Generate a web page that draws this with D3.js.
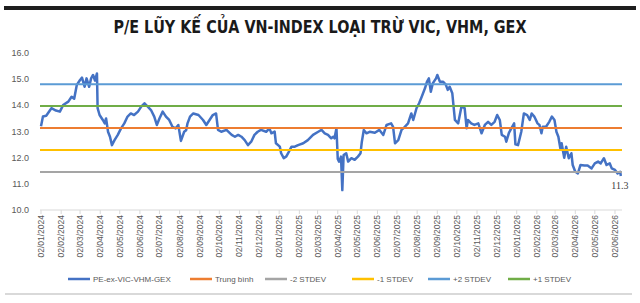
<!DOCTYPE html>
<html>
<head>
<meta charset="utf-8">
<script src="https://cdn.jsdelivr.net/npm/d3@7"></script>
<style>
  body { margin: 0; background: #fff; }
  svg { display: block; }
</style>
</head>
<body>
<svg id="chart" width="640" height="303"></svg>
<script>
// P/E series (date, value)
var dates = ["2024-01-02","2024-01-05","2024-01-10","2024-01-18","2024-01-25","2024-01-31","2024-02-05","2024-02-13","2024-02-18","2024-02-22",
  "2024-02-26","2024-03-02","2024-03-05","2024-03-09","2024-03-12","2024-03-16","2024-03-19","2024-03-22","2024-03-25","2024-03-28",
  "2024-03-29","2024-04-01","2024-04-06","2024-04-09","2024-04-11","2024-04-14","2024-04-17","2024-04-20","2024-04-24","2024-04-29",
  "2024-05-04","2024-05-09","2024-05-14","2024-05-19","2024-05-24","2024-05-30","2024-06-04","2024-06-09","2024-06-14","2024-06-19",
  "2024-06-24","2024-06-28","2024-07-02","2024-07-07","2024-07-12","2024-07-17","2024-07-22","2024-07-27","2024-07-31","2024-08-04",
  "2024-08-09","2024-08-12","2024-08-14","2024-08-18","2024-08-23","2024-08-31","2024-09-07","2024-09-12","2024-09-17","2024-09-22",
  "2024-09-27","2024-09-30","2024-10-05","2024-10-13","2024-10-21","2024-10-26","2024-10-31","2024-11-05","2024-11-10","2024-11-15",
  "2024-11-20","2024-11-25","2024-11-30","2024-12-05","2024-12-13","2024-12-18","2024-12-21","2024-12-26","2024-12-28","2025-01-03",
  "2025-01-05","2025-01-09","2025-01-13","2025-01-17","2025-01-21","2025-01-26","2025-01-31","2025-02-08","2025-02-15","2025-02-23",
  "2025-03-03","2025-03-08","2025-03-13","2025-03-18","2025-03-23","2025-03-26","2025-03-28","2025-03-31","2025-04-02","2025-04-04",
  "2025-04-07","2025-04-09","2025-04-11","2025-04-15","2025-04-18","2025-04-23","2025-04-28","2025-05-03","2025-05-07","2025-05-09",
  "2025-05-12","2025-05-16","2025-05-21","2025-05-29","2025-06-05","2025-06-11","2025-06-16","2025-06-23","2025-06-26","2025-06-29",
  "2025-07-04","2025-07-09","2025-07-14","2025-07-19","2025-07-24","2025-07-27","2025-08-01","2025-08-05","2025-08-09","2025-08-14",
  "2025-08-17","2025-08-20","2025-08-23","2025-08-26","2025-08-31","2025-09-02","2025-09-06","2025-09-11","2025-09-15","2025-09-18",
  "2025-09-21","2025-09-25","2025-09-29","2025-10-04","2025-10-09","2025-10-14","2025-10-17","2025-10-19","2025-10-24","2025-10-29",
  "2025-11-04","2025-11-09","2025-11-14","2025-11-19","2025-11-24","2025-11-29","2025-12-03","2025-12-07","2025-12-10","2025-12-15",
  "2025-12-17","2025-12-21","2025-12-26","2025-12-29","2025-12-31","2026-01-04","2026-01-09","2026-01-13","2026-01-18","2026-01-22",
  "2026-01-25","2026-01-29","2026-02-03","2026-02-06","2026-02-09","2026-02-11","2026-02-16","2026-02-21","2026-02-25","2026-03-01",
  "2026-03-04","2026-03-07","2026-03-10","2026-03-12","2026-03-16","2026-03-19","2026-03-23","2026-03-27","2026-03-29","2026-04-02",
  "2026-04-06","2026-04-10","2026-04-16","2026-04-21","2026-04-27","2026-05-02","2026-05-07","2026-05-11","2026-05-16","2026-05-20",
  "2026-05-25","2026-05-28","2026-06-02","2026-06-06","2026-06-10","2026-06-11"]
var pe = [13.20,13.57,13.60,13.89,13.80,13.76,14.01,14.14,14.33,14.25,
  14.78,14.97,15.06,14.71,15.03,14.71,15.03,15.16,14.95,15.22,
  13.89,13.63,13.44,13.31,13.50,12.99,12.80,12.48,12.67,12.87,
  13.12,13.31,13.57,13.69,13.63,13.76,13.95,14.08,13.95,13.82,
  13.57,13.25,13.50,13.76,13.57,13.44,13.18,13.12,13.25,12.64,
  12.99,13.05,13.30,13.57,13.69,13.63,13.44,13.25,13.44,13.63,
  13.69,13.06,12.99,13.06,12.87,12.80,12.87,12.80,12.67,12.48,
  12.61,12.87,12.99,13.06,12.99,13.12,12.93,13.00,12.55,12.42,
  12.17,11.98,12.05,12.23,12.42,12.42,12.48,12.55,12.67,12.87,
  12.99,13.06,12.93,12.87,12.74,12.80,12.74,13.12,11.95,11.85,
  12.04,10.76,12.10,12.17,11.85,11.98,11.92,12.04,12.17,12.61,
  13.06,12.93,12.99,12.95,13.06,12.87,13.25,13.31,13.18,12.55,
  12.67,13.06,13.18,13.31,13.69,13.44,13.89,14.08,14.33,14.65,
  14.90,15.03,14.52,14.84,15.03,15.16,14.90,14.90,14.79,14.59,
  14.71,14.46,13.44,13.31,13.95,13.89,13.12,13.44,13.31,13.25,
  13.31,12.93,13.25,13.37,13.25,13.37,13.63,13.44,12.87,12.80,
  12.61,12.95,13.18,13.31,12.51,12.48,12.99,13.69,13.63,13.44,
  13.69,13.57,13.31,13.25,12.93,13.18,13.18,13.37,13.57,13.44,
  12.99,12.80,12.36,12.55,12.00,12.42,11.98,12.17,11.72,11.46,
  11.40,11.72,11.70,11.70,11.59,11.78,11.85,11.78,11.98,11.72,
  11.78,11.59,11.53,11.40,11.46,11.30]

var bandNames = ["Trung bình", "-2 STDEV", "-1 STDEV", "+2 STDEV", "+1 STDEV"]
var bandValues = [13.13, 11.45, 12.29, 14.81, 13.97]
var bandColors = ["#ED7D31", "#A5A5A5", "#FFC000", "#5B9BD5", "#70AD47"]

var yTicks = [10, 11, 12, 13, 14, 15, 16]
var tickLabels = ["02/01/2024","02/02/2024","02/03/2024","02/04/2024","02/05/2024","02/06/2024","02/07/2024","02/08/2024",
  "02/09/2024","02/10/2024","02/11/2024","02/12/2024","02/01/2025","02/02/2025","02/03/2025","02/04/2025","02/05/2025",
  "02/06/2025","02/07/2025","02/08/2025","02/09/2025","02/10/2025","02/11/2025","02/12/2025","02/01/2026","02/02/2026",
  "02/03/2026","02/04/2026","02/05/2026","02/06/2026"]

var seriesName = "PE-ex-VIC-VHM-GEX"
var seriesColor = "#4472C4"
var lastLabel = "11.3"

function main(){
	var parseIso = d3.timeParse("%Y-%m-%d")
	var parseTick = d3.timeParse("%d/%m/%Y")
	var points = dates.map(function(d, i){ return {date: parseIso(d), value: pe[i]} })

	var svg = d3.select('svg#chart')

	// top black bar + bottom frame line
	svg.append('rect').attr('x', 4).attr('y', 6).attr('width', 632).attr('height', 4).style('fill', '#1e1e1e')
	svg.append('line').attr('x1', 5).attr('x2', 632).attr('y1', 294).attr('y2', 294)
		.style('stroke', '#d9d9d9').style('stroke-width', 2)

	svg.append('text')
		.attr('x', 320).attr('y', 33)
		.attr('text-anchor', 'middle')
		.attr('textLength', 413).attr('lengthAdjust', 'spacingAndGlyphs')
		.style('font-family', '"DejaVu Sans Condensed", "DejaVu Sans", sans-serif')
		.style('font-weight', 'bold').style('font-size', '17px').style('fill', '#1a1a1a')
		.text('P/E LŨY KẾ CỦA VN-INDEX LOẠI TRỪ VIC, VHM, GEX')

	var x = d3.scaleTime()
		.domain([parseIso("2024-01-02"), parseIso("2026-06-12")])
		.range([41, 621.5])
	var y = d3.scaleLinear()
		.domain([10, 16])
		.range([210, 53])

	// y labels
	svg.selectAll('text.ylab')
		.data(yTicks)
		.enter()
		.append('text')
		.attr('class', 'ylab')
		.attr('x', 29).attr('y', function(d){ return y(d) })
		.attr('dy', '0.35em')
		.attr('text-anchor', 'end')
		.style('font-family', '"Liberation Sans", Arial, sans-serif')
		.style('font-size', '9px').style('fill', '#595959')
		.text(function(d){ return d3.format('.1f')(d) })

	// x axis
	var tickDates = tickLabels.map(parseTick)
	svg.append('line').attr('x1', 40).attr('x2', 622).attr('y1', y(10)).attr('y2', y(10))
		.style('stroke', '#d9d9d9').style('stroke-width', 1)
	svg.selectAll('line.xtick')
		.data(tickDates)
		.enter()
		.append('line')
		.attr('class', 'xtick')
		.attr('x1', function(d){ return x(d) }).attr('x2', function(d){ return x(d) })
		.attr('y1', y(10)).attr('y2', y(10) + 4)
		.style('stroke', '#d9d9d9')
	svg.selectAll('text.xlab')
		.data(tickDates)
		.enter()
		.append('text')
		.attr('class', 'xlab')
		.attr('transform', function(d){ return 'translate(' + x(d) + ',215) rotate(-90)' })
		.attr('dy', '0.35em')
		.attr('text-anchor', 'end')
		.style('font-family', '"Liberation Sans", Arial, sans-serif')
		.style('font-size', '8.5px').style('fill', '#595959')
		.text(function(d, i){ return tickLabels[i] })

	// main series
	var line = d3.line()
		.x(function(d){ return x(d.date) })
		.y(function(d){ return y(d.value) })
	svg.append('path')
		.datum(points)
		.attr('d', line)
		.style('fill', 'none')
		.style('stroke', seriesColor)
		.style('stroke-width', 2.5)
		.style('stroke-linejoin', 'round')

	// mean / stdev lines
	svg.selectAll('line.band')
		.data(bandValues)
		.enter()
		.append('line')
		.attr('class', 'band')
		.attr('x1', 40).attr('x2', 622)
		.attr('y1', function(d){ return y(d) }).attr('y2', function(d){ return y(d) })
		.style('stroke', function(d, i){ return bandColors[i] })
		.style('stroke-width', 2)

	// last value label
	var last = points[points.length - 1]
	svg.append('text')
		.attr('x', x(last.date) - 1).attr('y', y(last.value) + 13)
		.attr('text-anchor', 'middle')
		.style('font-family', '"Liberation Serif", "DejaVu Serif", serif')
		.style('font-size', '10px').style('fill', '#404040')
		.text(lastLabel)

	// legend
	var legendNames = [seriesName].concat(bandNames)
	var legendColors = [seriesColor].concat(bandColors)
	var legendX = [68, 190, 265, 352, 428, 508]
	var lg = svg.selectAll('g.legend')
		.data(legendNames)
		.enter()
		.append('g')
		.attr('class', 'legend')
		.attr('transform', function(d, i){ return 'translate(' + legendX[i] + ',279)' })
	lg.append('line')
		.attr('x1', 0).attr('x2', 22)
		.style('stroke', function(d, i){ return legendColors[i] })
		.style('stroke-width', 2.5)
	lg.append('text')
		.attr('x', 25).attr('dy', '0.35em')
		.style('font-family', '"Liberation Sans", Arial, sans-serif')
		.style('font-size', '8px').style('fill', '#595959')
		.text(function(d){ return d })
}
main()
</script>
</body>
</html>
